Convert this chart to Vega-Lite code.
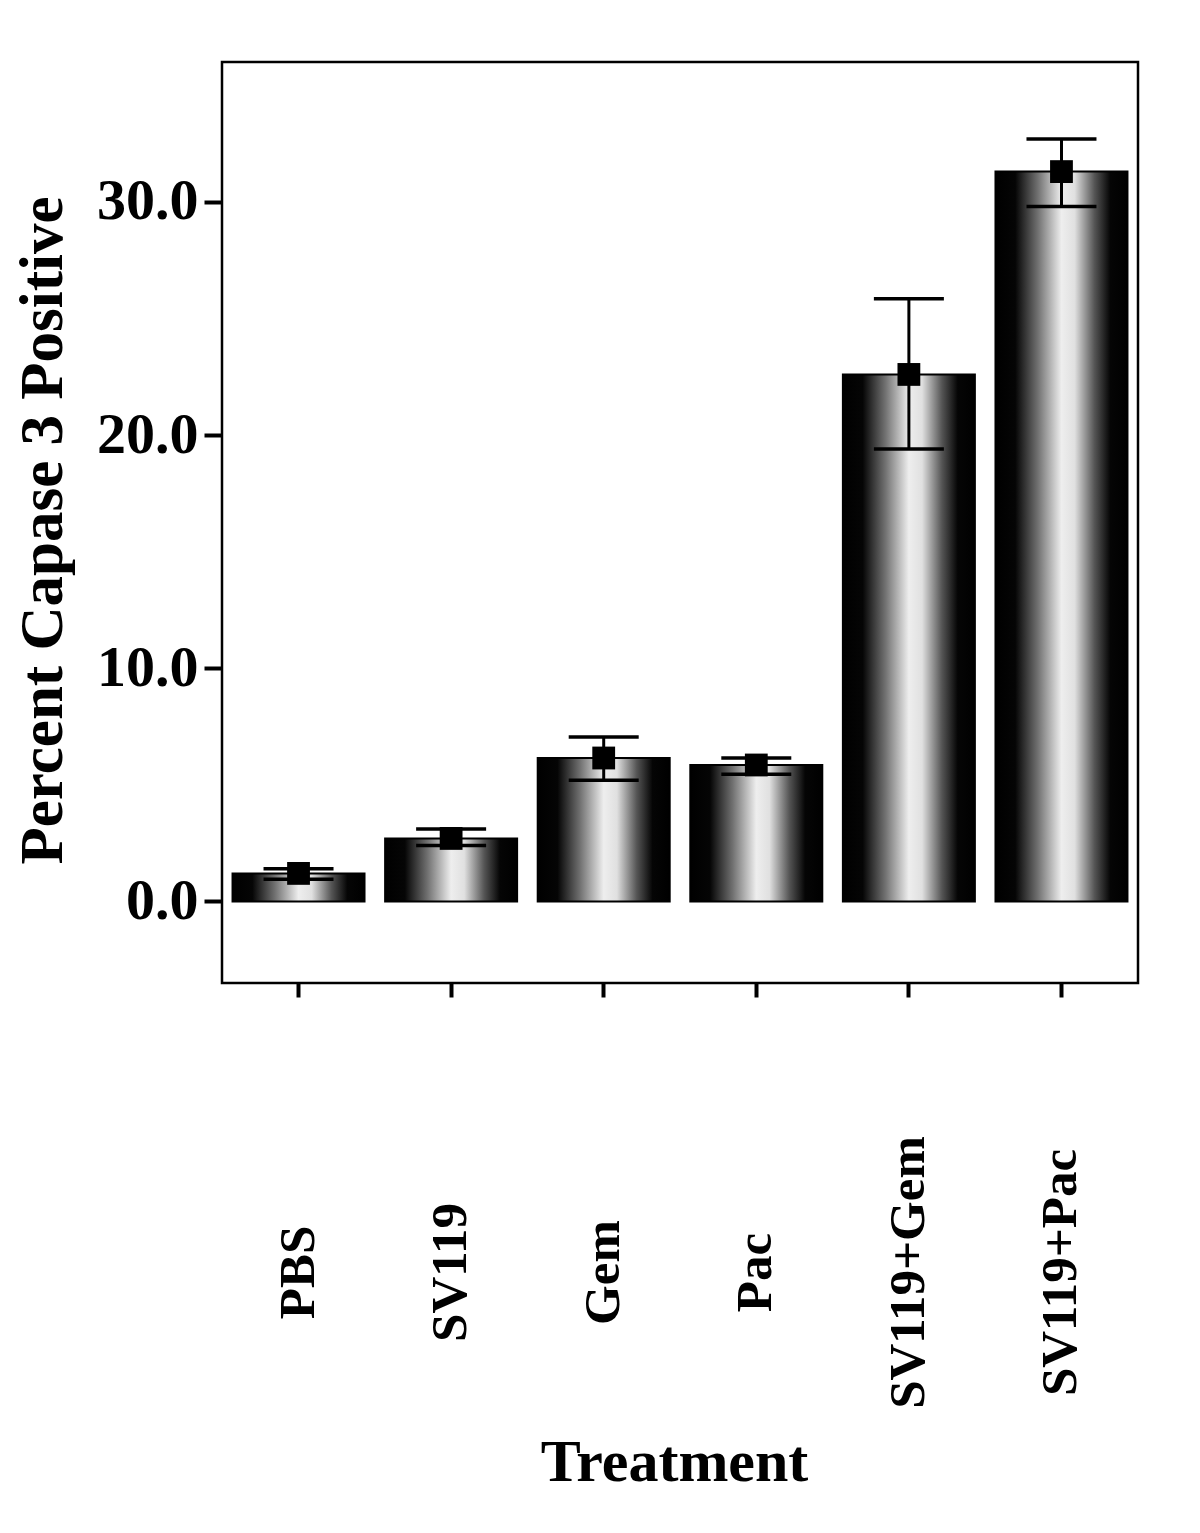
{
  "$schema": "https://vega.github.io/schema/vega-lite/v6.json",
  "autosize": {"type": "none"},
  "padding": {"left": 222, "top": 62, "right": 62, "bottom": 550},
  "width": 916,
  "height": 921,
  "background": "white",
  "config": {
    "view": {"stroke": "black", "strokeWidth": 2.5},
    "font": "Liberation Serif"
  },
  "data": {
    "values": [
      {"Treatment": "PBS", "mean": 1.2, "low": 0.95, "high": 1.4},
      {"Treatment": "SV119", "mean": 2.7, "low": 2.4, "high": 3.1},
      {"Treatment": "Gem", "mean": 6.15, "low": 5.2, "high": 7.05},
      {"Treatment": "Pac", "mean": 5.85, "low": 5.45, "high": 6.15},
      {"Treatment": "SV119+Gem", "mean": 22.6, "low": 19.4, "high": 25.85},
      {"Treatment": "SV119+Pac", "mean": 31.3, "low": 29.8, "high": 32.7}
    ]
  },
  "encoding": {
    "x": {
      "field": "Treatment",
      "type": "nominal",
      "sort": null,
      "scale": {"paddingInner": 0.135, "paddingOuter": 0.069},
      "axis": {
        "title": "Treatment",
        "titleFont": "Liberation Serif",
        "titleFontSize": 60,
        "titleFontWeight": "bold",
        "titleColor": "black",
        "titleX": 452,
        "titleY": 497,
        "titleBaseline": "alphabetic",
        "labelAngle": -90,
        "labelAlign": "center",
        "labelBaseline": "middle",
        "labelPadding": 275,
        "labelLimit": 0,
        "labelOverlap": false,
        "labelFont": "Liberation Serif",
        "labelFontSize": 51,
        "labelFontWeight": "bold",
        "labelColor": "black",
        "domain": false,
        "ticks": true,
        "tickSize": 14,
        "tickWidth": 4,
        "tickColor": "black"
      }
    }
  },
  "layer": [
    {
      "mark": {
        "type": "bar",
        "stroke": "black",
        "strokeWidth": 2,
        "color": {
          "gradient": "linear",
          "x1": 0, "y1": 0, "x2": 1, "y2": 0,
          "stops": [
            {"offset": 0, "color": "#000000"},
            {"offset": 0.15, "color": "#050505"},
            {"offset": 0.32, "color": "#707070"},
            {"offset": 0.5, "color": "#eeeeee"},
            {"offset": 0.6, "color": "#e0e0e0"},
            {"offset": 0.75, "color": "#555555"},
            {"offset": 0.87, "color": "#050505"},
            {"offset": 1, "color": "#000000"}
          ]
        }
      },
      "encoding": {
        "y": {
          "field": "mean",
          "type": "quantitative",
          "scale": {"domain": [-3.5, 36], "nice": false, "zero": false},
          "axis": {
            "title": "Percent Capase 3 Positive",
            "titleFont": "Liberation Serif",
            "titleFontSize": 61,
            "titleFontWeight": "bold",
            "titleColor": "black",
            "titlePadding": 22,
            "titleY": 468,
            "values": [0, 10, 20, 30],
            "format": ".1f",
            "labelFont": "Liberation Serif",
            "labelFontSize": 58,
            "labelFontWeight": "bold",
            "labelColor": "black",
            "labelPadding": 6,
            "labelBaseline": "middle",
            "domain": false,
            "grid": false,
            "tickSize": 18,
            "tickWidth": 4,
            "tickColor": "black"
          }
        }
      }
    },
    {
      "mark": {"type": "rule", "color": "black", "strokeWidth": 3},
      "encoding": {
        "y": {"field": "low", "type": "quantitative"},
        "y2": {"field": "high"}
      }
    },
    {
      "mark": {"type": "tick", "color": "black", "opacity": 1, "size": 70, "thickness": 3.5},
      "encoding": {"y": {"field": "low", "type": "quantitative"}}
    },
    {
      "mark": {"type": "tick", "color": "black", "opacity": 1, "size": 70, "thickness": 3.5},
      "encoding": {"y": {"field": "high", "type": "quantitative"}}
    },
    {
      "mark": {"type": "point", "shape": "square", "filled": true, "color": "black", "opacity": 1, "size": 520},
      "encoding": {"y": {"field": "mean", "type": "quantitative"}}
    }
  ]
}
